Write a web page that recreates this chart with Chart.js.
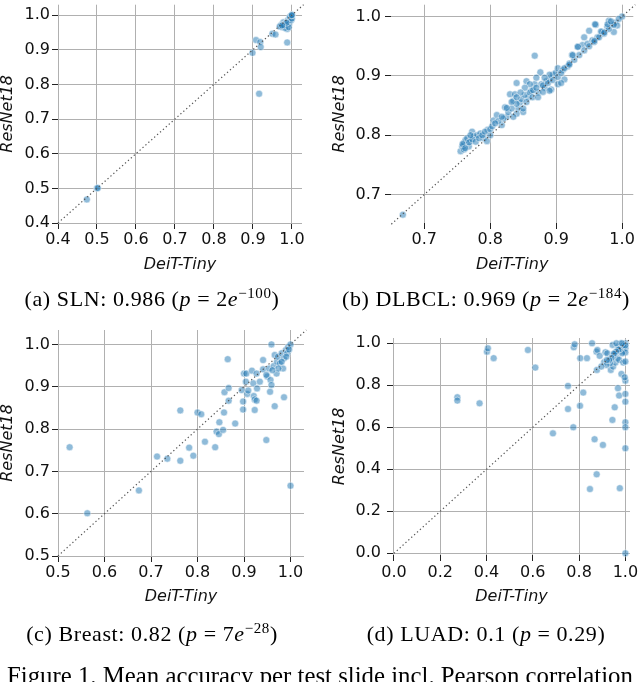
<!DOCTYPE html>
<html lang="en">
<head>
<meta charset="UTF-8">
<title>Mean accuracy per test slide</title>
<script src="https://cdn.jsdelivr.net/npm/chart.js"></script>
<style>
  html, body { margin: 0; padding: 0; width: 638px; height: 682px; overflow: hidden; background: #fff; }
  canvas { position: absolute; left: 0; top: 0; }
  .cap { position: absolute; font-family: "Liberation Serif", serif; font-size: 22px; line-height: 24px;
         letter-spacing: 0.6px; text-align: center; white-space: nowrap; color: #000; }
  .cap sup { font-size: 15px; line-height: 0; vertical-align: 8px; }
  .cap .eq { margin: 0 6px; }
  .fig { position: absolute; left: 7px; top: 664px; font-family: "Liberation Serif", serif; font-size: 24.8px;
         line-height: 24.8px; white-space: nowrap; color: #000; }
</style>
</head>
<body>
<canvas id="chartA" width="638" height="682"></canvas>
<canvas id="chartB" width="638" height="682"></canvas>
<canvas id="chartC" width="638" height="682"></canvas>
<canvas id="chartD" width="638" height="682"></canvas>

<div class="cap" style="left:0; width:304px; top:287px">(a) SLN: 0.986 (<i>p</i><span class="eq">=</span>2<i>e</i><sup>−100</sup>)</div>
<div class="cap" style="left:334px; width:304px; top:287px">(b) DLBCL: 0.969 (<i>p</i><span class="eq">=</span>2<i>e</i><sup>−184</sup>)</div>
<div class="cap" style="left:0; width:304px; top:622px">(c) Breast: 0.82 (<i>p</i><span class="eq">=</span>7<i>e</i><sup>−28</sup>)</div>
<div class="cap" style="left:334px; width:304px; top:622px">(d) LUAD: 0.1 (<i>p</i><span class="eq">=</span>0.29)</div>
<div class="fig">Figure 1. Mean accuracy per test slide incl. Pearson correlation</div>

<script>
// mean accuracy per test slide: DeiT-Tiny (x) vs ResNet18 (y)
const slnX = [0.474, 0.500, 0.502, 0.899, 0.908, 0.919, 0.920, 0.916, 0.950, 0.958, 0.988, 0.969, 0.976, 0.988,
              0.978, 0.990, 0.997, 1.000, 0.985, 0.993, 0.983, 0.973, 0.995, 0.970, 0.980, 0.990, 0.995, 0.998,
              1.000, 0.992, 0.986, 0.975, 0.999, 1.000];
const slnY = [0.468, 0.500, 0.501, 0.891, 0.928, 0.922, 0.908, 0.773, 0.946, 0.944, 0.921, 0.967, 0.965, 0.960,
              0.979, 0.986, 0.997, 1.000, 0.972, 0.975, 0.963, 0.972, 0.990, 0.968, 0.970, 0.980, 0.995, 0.985,
              0.990, 0.965, 0.978, 0.970, 0.999, 1.000];

const dlbclX = [0.6675, 0.755, 0.7575, 0.76, 0.7625, 0.765, 0.77, 0.7725, 0.775, 0.78, 0.785, 0.79, 0.795, 0.796, 0.80,
                0.7675, 0.76, 0.758, 0.762, 0.768, 0.773, 0.778, 0.783, 0.788, 0.792, 0.80, 0.803, 0.77,
                0.805, 0.81, 0.8175, 0.8225, 0.825, 0.83, 0.835, 0.84, 0.8425, 0.8375, 0.845, 0.85, 0.855, 0.8575,
                0.8625, 0.8675, 0.8675, 0.8725, 0.8775, 0.876, 0.8825, 0.885, 0.89, 0.8925, 0.895, 0.899, 0.9025,
                0.91, 0.9125, 0.9175, 0.92, 0.924, 0.9325, 0.94, 0.9425, 0.95, 0.9475, 0.955, 0.9625, 0.96, 0.97,
                0.9775, 0.98, 0.985, 0.9875, 0.99, 0.9925, 1.0, 0.995,
                0.82, 0.8275, 0.8325, 0.84, 0.8475, 0.8525, 0.86, 0.865, 0.87, 0.88, 0.8875, 0.895, 0.9025, 0.9075,
                0.9125, 0.92, 0.9275, 0.935, 0.9425, 0.95, 0.9575, 0.965, 0.9725, 0.98, 0.9875, 0.84, 0.85, 0.855,
                0.864, 0.8725, 0.88, 0.89, 0.835, 0.8125, 0.8075, 0.8175, 0.9025, 0.9075, 0.89, 0.8825, 0.87, 0.86,
                0.8525, 0.846, 0.84, 0.8325, 0.825, 0.978, 0.983, 0.968, 0.959, 0.933, 0.925, 0.958, 0.973];
const dlbclY = [0.666, 0.773, 0.781, 0.787, 0.792, 0.795, 0.79, 0.806, 0.798, 0.80, 0.803, 0.795, 0.79, 0.809, 0.80,
                0.781, 0.776, 0.785, 0.778, 0.788, 0.793, 0.789, 0.795, 0.80, 0.806, 0.81, 0.815, 0.80,
                0.825, 0.834, 0.817, 0.847, 0.831, 0.869, 0.858, 0.888, 0.845, 0.869, 0.855, 0.839, 0.891, 0.864,
                0.875, 0.934, 0.886, 0.872, 0.886, 0.906, 0.880, 0.891, 0.894, 0.877, 0.902, 0.905, 0.913,
                0.91, 0.894, 0.916, 0.921, 0.935, 0.949, 0.952, 0.965, 0.976, 0.954, 0.96, 0.965, 0.986, 0.974,
                0.983, 0.993, 0.987, 0.974, 0.990, 0.985, 1.0, 0.996,
                0.828, 0.839, 0.845, 0.853, 0.861, 0.868, 0.872, 0.876, 0.880, 0.884, 0.888, 0.893, 0.898, 0.905,
                0.913, 0.919, 0.927, 0.935, 0.943, 0.95, 0.957, 0.965, 0.971, 0.979, 0.986, 0.836, 0.845, 0.856,
                0.864, 0.864, 0.873, 0.875, 0.831, 0.824, 0.82, 0.831, 0.886, 0.888, 0.902, 0.897, 0.897, 0.886,
                0.880, 0.872, 0.864, 0.856, 0.846, 0.987, 0.992, 0.975, 0.987, 0.949, 0.935, 0.959, 0.973];

const breastX = [0.525, 0.563, 0.674, 0.713, 0.735, 0.763, 0.763, 0.782, 0.791, 0.800, 0.808, 0.816, 0.838, 0.841,
                 0.846, 0.847, 0.855, 0.857, 0.858, 0.865, 0.867, 0.867, 0.881, 0.895, 0.898, 0.898, 0.900, 0.904,
                 0.905, 0.907, 0.909, 0.917, 0.920, 0.921, 0.923, 0.923, 0.927, 0.927, 0.928, 0.934, 0.941, 0.941,
                 0.948, 0.950, 0.954, 0.956, 0.957, 0.959, 0.959, 0.964, 0.966, 0.966, 0.970, 0.971, 0.973, 0.977,
                 0.981, 0.984, 0.986, 0.986, 0.990, 0.993, 0.995, 1.000, 1.000, 0.991, 0.981, 0.974, 0.961, 0.948,
                 0.997];
const breastY = [0.757, 0.601, 0.655, 0.735, 0.730, 0.725, 0.844, 0.756, 0.737, 0.839, 0.835, 0.770, 0.757, 0.794,
                 0.788, 0.816, 0.798, 0.839, 0.887, 0.965, 0.897, 0.867, 0.813, 0.892, 0.865, 0.846, 0.931, 0.912,
                 0.931, 0.883, 0.891, 0.938, 0.908, 0.878, 0.870, 0.845, 0.867, 0.931, 0.896, 0.912, 0.963, 0.941,
                 0.774, 0.924, 0.943, 0.888, 0.916, 1.000, 0.904, 0.949, 0.854, 0.975, 0.931, 0.959, 0.971, 0.955,
                 0.979, 0.943, 0.875, 0.967, 0.987, 0.979, 0.994, 1.000, 0.666, 0.971, 0.959, 0.943, 0.939, 0.928,
                 0.988];

const luadX = [0.274, 0.274, 0.370, 0.402, 0.406, 0.431, 0.579, 0.611, 0.687, 0.752, 0.752, 0.775, 0.777, 0.781,
               0.804, 0.805, 0.818, 0.834, 0.856, 0.867, 0.876, 0.847, 0.875, 0.877, 0.879, 0.889, 0.903, 0.908,
               0.914, 0.922, 0.937, 0.939, 0.944, 0.945, 0.947, 0.951, 0.954, 0.957, 0.965, 0.968, 0.973, 0.976,
               0.973, 0.968, 0.980, 0.983, 0.990, 0.991, 0.994, 1.000, 1.000, 1.000, 1.000, 1.000, 0.997, 1.000,
               1.000, 1.000, 1.000, 1.000, 1.000, 0.961, 0.986, 0.976, 0.954, 0.934, 0.918, 0.896, 0.990, 1.000,
               0.985, 0.970, 0.960, 0.950, 0.940, 0.930, 0.920];
const luadY = [0.743, 0.727, 0.714, 0.960, 0.976, 0.929, 0.968, 0.884, 0.571, 0.797, 0.687, 0.600, 0.981, 0.995,
               0.702, 0.929, 0.765, 0.929, 1.000, 0.543, 0.376, 0.306, 0.960, 0.873, 0.968, 0.940, 0.516, 0.910,
               0.957, 0.952, 0.873, 0.929, 0.635, 0.992, 0.889, 0.944, 0.695, 0.908, 0.929, 0.984, 0.921, 0.310,
               0.751, 0.786, 1.000, 0.854, 0.960, 0.908, 0.984, 1.000, 0.976, 0.956, 0.913, 0.822, 0.838, 0.759,
               0.722, 0.624, 0.600, 0.500, 0.000, 1.000, 0.952, 0.971, 0.952, 0.905, 0.897, 0.889, 0.990, 0.990,
               1.000, 0.970, 0.960, 0.950, 0.930, 0.920, 0.920];

// tick labels
const ticksA = [0.4, 0.5, 0.6, 0.7, 0.8, 0.9, 1.0];
const ticksB = [0.7, 0.8, 0.9, 1.0];
const ticksC = [0.5, 0.6, 0.7, 0.8, 0.9, 1.0];
const ticksD = [0.0, 0.2, 0.4, 0.6, 0.8, 1.0];

const tickFont = { family: 'DejaVu Sans', size: 16, lineHeight: 1 };
const titleFont = { family: 'DejaVu Sans', size: 16, style: 'italic', lineHeight: 1 };

// box: plot area + axis title centres, in page pixels
function makeChart(id, xs, ys, ticks, lim, box) {
  const pts = xs.map((x, i) => ({ x: x, y: ys[i] }));
  const axis = (min, max, pad) => ({
    type: 'linear', min: min, max: max,
    border: { display: false },
    grid: { color: '#b0b0b0', lineWidth: 1, tickColor: '#222', tickLength: 6, tickWidth: 1 },
    ticks: { font: tickFont, color: '#111', padding: pad, autoSkip: false, maxRotation: 0,
             callback: v => v.toFixed(1) },
    afterBuildTicks: s => { s.ticks = ticks.map(v => ({ value: v })); }
  });
  const xAxis = axis(lim.xmin, lim.xmax, box.xpad);
  xAxis.title = { display: true, text: 'DeiT-Tiny', font: titleFont, color: '#111', padding: 0 };
  xAxis.afterFit = s => { s.height = box.titleY + 8 - box.bottom; s.paddingLeft = 0; s.paddingRight = 0; };
  const yAxis = axis(lim.ymin, lim.ymax, box.ypad);
  yAxis.title = { display: true, text: 'ResNet18', font: titleFont, color: '#111', padding: 0 };
  yAxis.afterFit = s => { s.width = box.left - (box.titleX - 8); s.paddingTop = 0; s.paddingBottom = 0; };

  new Chart(document.getElementById(id), {
    type: 'scatter',
    data: {
      datasets: [{
        type: 'line',
        data: [{ x: lim.diag[0], y: lim.diag[0] }, { x: lim.diag[1], y: lim.diag[1] }],
        borderColor: '#555', borderWidth: 1.2, borderDash: [1.3, 2.6], pointRadius: 0,
        order: 0, clip: false
      }, {
        data: pts,
        backgroundColor: 'rgba(31,119,180,0.5)', borderColor: 'rgba(255,255,255,0.7)', borderWidth: 0.7,
        pointRadius: 3.5, order: 1, clip: false
      }]
    },
    options: {
      responsive: false, animation: false, events: [],
      layout: { padding: { left: box.titleX - 8, top: box.top, right: 638 - box.right, bottom: 682 - box.titleY - 8 } },
      plugins: { legend: { display: false }, tooltip: { enabled: false } },
      scales: { x: xAxis, y: yAxis }
    }
  });
}

makeChart('chartA', slnX, slnY, ticksA,
  { xmin: 0.4, xmax: 1.026, ymin: 0.4, ymax: 1.03, diag: [0.4, 1.03] },
  { left: 58, right: 302, top: 1, bottom: 223, titleX: 8, titleY: 265, xpad: 3, ypad: 2 });
makeChart('chartB', dlbclX, dlbclY, ticksB,
  { xmin: 0.6495, xmax: 1.017, ymin: 0.652, ymax: 1.02, diag: [0.65, 1.02] },
  { left: 391, right: 636, top: 0, bottom: 223, titleX: 340, titleY: 265, xpad: 3, ypad: 4 });
makeChart('chartC', breastX, breastY, ticksC,
  { xmin: 0.5, xmax: 1.029, ymin: 0.5, ymax: 1.034, diag: [0.5, 1.034] },
  { left: 58, right: 304, top: 330, bottom: 556, titleX: 8, titleY: 597, xpad: 3, ypad: 2 });
makeChart('chartD', luadX, luadY, ticksD,
  { xmin: -0.004, xmax: 1.02, ymin: -0.008, ymax: 1.025, diag: [0.0, 1.02] },
  { left: 393, right: 630, top: 338, bottom: 555, titleX: 340, titleY: 597, xpad: 4, ypad: 6 });
</script>
</body>
</html>
